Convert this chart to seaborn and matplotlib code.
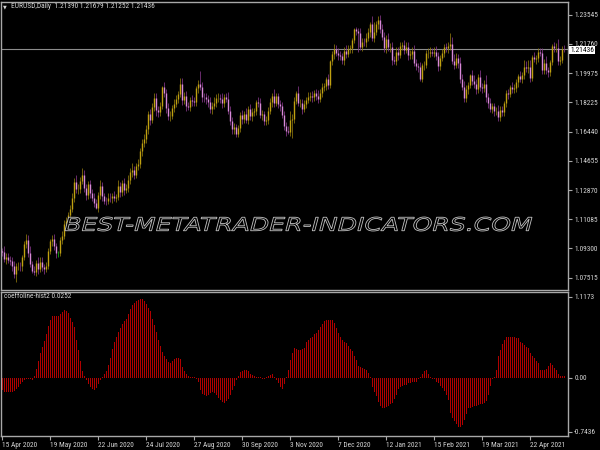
import numpy as np
import pandas as pd
import matplotlib
matplotlib.use("Agg")
import matplotlib.pyplot as plt
import seaborn as sns
from matplotlib import font_manager
from matplotlib.textpath import TextPath
from matplotlib.patches import PathPatch
from matplotlib.font_manager import FontProperties
import matplotlib.transforms as mtransforms

# ---------------- data ----------------
first_open = 1.0915
closes = [
    1.0910, 1.0865, 1.0875,
    1.0862, 1.0855, 1.0823, 1.0775, 1.0820,
    1.0825, 1.0820, 1.0875, 1.0955, 1.0980,
    1.0905, 1.0835, 1.0795, 1.0785, 1.0840,
    1.0805, 1.0850, 1.0815, 1.0805, 1.0820,
    1.0915, 1.0975, 1.0985, 1.0945, 1.0900,
    1.0900, 1.0980, 1.1005, 1.1080, 1.1100,
    1.1135, 1.1170, 1.1235, 1.1335, 1.1290,
    1.1295, 1.1340, 1.1375, 1.1300, 1.1255,
    1.1320, 1.1265, 1.1240, 1.1205, 1.1175,
    1.1255, 1.1310, 1.1250, 1.1220, 1.1218,
    1.1240, 1.1235, 1.1250, 1.1240, 1.1245,
    1.1310, 1.1275, 1.1330, 1.1285, 1.1300,
    1.1345, 1.1395, 1.1410, 1.1380, 1.1430,
    1.1445, 1.1525, 1.1570, 1.1595, 1.1655,
    1.1750, 1.1715, 1.1790, 1.1845, 1.1775,
    1.1760, 1.1800, 1.1915, 1.1875, 1.1785,
    1.1735, 1.1740, 1.1785, 1.1810, 1.1840,
    1.1870, 1.1930, 1.1835, 1.1860, 1.1795,
    1.1792, 1.1835, 1.1830, 1.1820, 1.1905,
    1.1935, 1.1915, 1.1855, 1.1850, 1.1840,
    1.1820, 1.1780, 1.1800, 1.1815, 1.1845,
    1.1848, 1.1842, 1.1815, 1.1850, 1.1840,
    1.1770, 1.1705, 1.1655, 1.1670, 1.1630,
    1.1665, 1.1745, 1.1720, 1.1750, 1.1715,
    1.1780, 1.1735, 1.1760, 1.1765, 1.1825,
    1.1815, 1.1745, 1.1750, 1.1705, 1.1715,
    1.1770, 1.1820, 1.1860, 1.1815, 1.1860,
    1.1810, 1.1795, 1.1745, 1.1675, 1.1645,
    1.1640, 1.1715, 1.1720, 1.1830, 1.1875,
    1.1815, 1.1818, 1.1780, 1.1810, 1.1835,
    1.1855, 1.1860, 1.1850, 1.1875, 1.1860,
    1.1840, 1.1880, 1.1915, 1.1917, 1.1960,
    1.1925, 1.2070, 1.2115, 1.2145, 1.2120,
    1.2110, 1.2100, 1.2080, 1.2135, 1.2115,
    1.2145, 1.2150, 1.2200, 1.2265, 1.2255,
    1.2245, 1.2160, 1.2190, 1.2185,
    1.2215, 1.2250, 1.2300, 1.2215,
    1.2250, 1.2295, 1.2325, 1.2270, 1.2220,
    1.2150, 1.2205, 1.2155, 1.2158, 1.2080,
    1.2075, 1.2130, 1.2110, 1.2165, 1.2170,
    1.2140, 1.2160, 1.2110, 1.2115, 1.2135,
    1.2060, 1.2040, 1.2035, 1.1965, 1.2045,
    1.2050, 1.2120, 1.2122, 1.2130, 1.2120,
    1.2130, 1.2100, 1.2040, 1.2090, 1.2120,
    1.2155, 1.2150, 1.2165, 1.2175, 1.2075,
    1.2050, 1.2090, 1.2060, 1.1965, 1.1915,
    1.1845, 1.1900, 1.1925, 1.1985, 1.1950,
    1.1930, 1.1900, 1.1975, 1.1915, 1.1905,
    1.1935, 1.1850, 1.1815, 1.1780, 1.1795,
    1.1765, 1.1768, 1.1730, 1.1775, 1.1760,
    1.1815, 1.1875, 1.1870, 1.1915, 1.1900,
    1.1910, 1.1945, 1.1980, 1.1965, 1.1985,
    1.2035, 1.2030, 1.2038, 1.1970, 1.2095,
    1.2085, 1.2090, 1.2125, 1.2120, 1.2020,
    1.2060, 1.2015, 1.2005, 1.2065, 1.2165,
    1.2150, 1.2153, 1.2075, 1.2080, 1.2145,
    1.21436,
]
# wick lengths above / below the candle body, in pips
up_wick_pips = [
    20, 35, 25,
    30, 20, 25, 30, 20,   25, 20, 15, 20, 39,   30, 40, 20, 25, 20,
    35, 25, 30, 20, 25,   20, 15, 25, 30, 20,   15, 20, 30, 25, 20,
    20, 25, 35, 25, 40,   30, 25, 47, 30, 25,   20, 30, 25, 30, 25,
    20, 39, 25, 20, 25,   30, 25, 20, 30, 15,   35, 25, 20, 30, 25,
    30, 25, 40, 25, 20,   30, 20, 25, 30, 25,   20, 30, 25, 35, 30,
    25, 20, 5, 30, 25,    30, 25, 20, 30, 25,   20, 36, 40, 25, 30,
    25, 20, 30, 25, 15,   20, 76, 30, 25, 30,   25, 30, 25, 35, 25,
    30, 25, 35, 20, 30,   45, 30, 25, 25, 20,   20, 15, 30, 20, 35,
    20, 30, 25, 20, 10,   30, 30, 25, 20, 25,   20, 25, 20, 40, 20,
    20, 25, 30, 20, 25,   30, 50, 30, 20, 15,   45, 25, 20, 25, 20,
    30, 25, 30, 20, 25,   35, 20, 25, 20, 15,   30, 10, 20, 30, 25,
    30, 25, 20, 20, 35,   25, 20, 15, 8, 15,
    20, 30, 25, 25,
    30, 25, 10, 45,
    60, 20, 24, 30, 25,   30, 25, 40, 25, 30,   20, 25, 30, 20, 15,
    30, 25, 30, 25, 20,   35, 25, 20, 30, 15,   25, 20, 30, 25, 20,
    30, 35, 25, 20, 25,   20, 25, 20, 68, 45,   40, 30, 25, 35, 25,
    35, 25, 20, 10, 30,   35, 30, 15, 40, 25,   20, 50, 25, 30, 20,
    20, 25, 35, 20, 25,   15, 20, 25, 10, 30,   25, 20, 15, 30, 20,
    45, 35, 40, 40, 15,   30, 20, 25, 25, 30,   25, 40, 20, 15, 10,
    25, 31, 55, 25, 20,
    24,
]
dn_wick_pips = [
    25, 20, 30,
    20, 25, 30, 25, 48,   20, 30, 25, 15, 20,   25, 20, 13, 20, 25,
    30, 20, 25, 30, 20,   15, 20, 30, 25, 30,   20, 15, 25, 20, 25,
    20, 30, 20, 25, 20,   30, 25, 20, 25, 30,   25, 30, 20, 25, 7,
    20, 25, 30, 20, 25,   20, 25, 30, 20, 25,   20, 30, 25, 30, 20,
    25, 20, 30, 25, 20,   20, 25, 30, 20, 25,   25, 30, 20, 25, 40,
    30, 25, 20, 25, 30,   25, 30, 20, 25, 20,   25, 20, 30, 25, 30,
    20, 25, 30, 20, 25,   25, 20, 30, 25, 30,   30, 25, 30, 20, 25,
    20, 25, 30, 25, 20,   20, 25, 30, 25, 18,   20, 25, 30, 25, 20,
    25, 20, 30, 25, 20,   25, 20, 30, 25, 20,   25, 20, 30, 25, 20,
    25, 30, 20, 25, 30,   15, 25, 113, 25, 20,  20, 25, 30, 20, 25,
    20, 25, 30, 20, 25,   25, 20, 30, 25, 20,   25, 20, 25, 30, 20,
    30, 20, 25, 30, 25,   20, 25, 30, 20, 25,
    115, 20, 25, 20,
    25, 20, 30, 20,
    25, 20, 30, 25, 20,   25, 30, 20, 25, 30,   20, 25, 30, 20, 25,
    25, 20, 30, 25, 30,   20, 25, 30, 13, 20,   25, 20, 30, 25, 20,
    25, 20, 30, 25, 20,   25, 20, 30, 25, 20,   25, 20, 30, 25, 20,
    20, 25, 30, 20, 25,   25, 30, 20, 25, 30,   20, 25, 30, 20, 25,
    25, 20, 26, 25, 20,   20, 25, 30, 20, 25,   20, 25, 30, 20, 25,
    20, 25, 30, 25, 20,   20, 30, 25, 20, 25,   25, 20, 30, 25, 20,
    25, 20, 30, 25, 20,
    14,
]
hist = [
    -0.17, -0.19, -0.20, -0.20, -0.20, -0.19, -0.18, -0.15, -0.12, -0.08,
    -0.05, -0.03, -0.02, -0.01, -0.02, -0.03, 0.03, 0.12, 0.23, 0.34,
    0.43, 0.51, 0.60, 0.72, 0.80, 0.85, 0.86, 0.85, 0.86, 0.88,
    0.91, 0.94, 0.93, 0.90, 0.83, 0.77, 0.70, 0.52, 0.38, 0.23,
    0.10, 0.03, -0.03, -0.08, -0.12, -0.15, -0.16, -0.14, -0.08, -0.03,
    0.02, 0.05, 0.10, 0.18, 0.28, 0.40, 0.50, 0.57, 0.64, 0.69,
    0.74, 0.78, 0.82, 0.88, 0.95, 1.00, 1.04, 1.06, 1.08, 1.09,
    1.09, 1.06, 1.02, 0.97, 0.92, 0.82, 0.73, 0.63, 0.53, 0.44,
    0.36, 0.30, 0.26, 0.22, 0.20, 0.23, 0.26, 0.28, 0.28, 0.26,
    0.15, 0.09, 0.05, 0.03, 0.02, 0.01, 0.01, -0.01, -0.05, -0.16,
    -0.22, -0.24, -0.25, -0.23, -0.21, -0.20, -0.21, -0.24, -0.28, -0.31,
    -0.33, -0.34, -0.32, -0.29, -0.23, -0.17, -0.11, -0.03, 0.03, 0.08,
    0.10, 0.11, 0.11, 0.10, 0.06, 0.04, 0.03, 0.02, 0.01, 0.01,
    -0.01, -0.01, 0.01, 0.03, 0.04, 0.05, 0.01, -0.03, -0.07, -0.13,
    -0.15, -0.08, 0.02, 0.11, 0.25, 0.34, 0.41, 0.40, 0.39, 0.38,
    0.40, 0.42, 0.50, 0.53, 0.55, 0.57, 0.60, 0.62, 0.66, 0.70,
    0.75, 0.78, 0.80, 0.80, 0.80, 0.80, 0.76, 0.69, 0.62, 0.57,
    0.53, 0.50, 0.48, 0.44, 0.40, 0.37, 0.31, 0.25, 0.17, 0.15,
    0.14, 0.12, 0.11, 0.07, 0.01, -0.12, -0.19, -0.25, -0.33, -0.38,
    -0.41, -0.41, -0.40, -0.38, -0.36, -0.34, -0.29, -0.23, -0.15, -0.12,
    -0.11, -0.10, -0.09, -0.07, -0.07, -0.06, -0.05, -0.05, -0.02, 0.02,
    0.05, 0.10, 0.11, 0.06, 0.02, -0.01, -0.02, -0.05, -0.07, -0.11,
    -0.14, -0.18, -0.24, -0.30, -0.48, -0.55, -0.60, -0.64, -0.67, -0.68,
    -0.65, -0.58, -0.50, -0.42, -0.41, -0.40, -0.39, -0.38, -0.37, -0.36,
    -0.36, -0.34, -0.32, -0.23, -0.11, -0.02, 0.02, 0.11, 0.30, 0.39,
    0.47, 0.53, 0.56, 0.57, 0.56, 0.56, 0.56, 0.55, 0.55, 0.50,
    0.48, 0.46, 0.43, 0.41, 0.34, 0.31, 0.28, 0.24, 0.21, 0.11,
    0.11, 0.11, 0.13, 0.16, 0.20, 0.18, 0.14, 0.11, 0.05, 0.03,
    0.03, 0.0252,
]
price_tick_labels = ["1.23545", "1.21760", "1.19975", "1.18225", "1.16440",
                     "1.14655", "1.12870", "1.11085", "1.09300", "1.07515"]
last_price = 1.21436
hist_tick_values = [1.1173, 0.0, -0.7436]
hist_tick_labels = ["1.1173", "0.00", "-0.7436"]
date_bars = [0, 24, 48, 72, 96, 120, 144, 168, 192, 216, 240, 264]
date_labels = ["15 Apr 2020", "19 May 2020", "22 Jun 2020", "24 Jul 2020",
               "27 Aug 2020", "30 Sep 2020", "3 Nov 2020", "7 Dec 2020",
               "12 Jan 2021", "15 Feb 2021", "19 Mar 2021", "22 Apr 2021"]
title_text = "EURUSD,Daily  1.21390 1.21679 1.21252 1.21436"
ind_text = "coeffoline-hist2 0.0252"
watermark = "BEST-METATRADER-INDICATORS.COM"

# ---------------- frame ----------------
n = len(closes)
bars = np.arange(n)
c = np.array(closes)
o = np.array([first_open] + closes[:-1])
hi = np.maximum(o, c) + np.array(up_wick_pips) * 1e-4
lo = np.minimum(o, c) - np.array(dn_wick_pips) * 1e-4
df = pd.DataFrame({"bar": bars, "open": o, "close": c, "high": hi,
                   "low": lo, "hist": hist})

sns.set_theme(style="dark", rc={"axes.facecolor": "black",
                                "figure.facecolor": "black",
                                "axes.grid": False})
names = {f.name for f in font_manager.fontManager.ttflist}
small_font, fs = "DejaVu Sans", 4.2
for cand, size in [("Liberation Sans Narrow", 5.6), ("Roboto Condensed", 5.3)]:
    if cand in names:
        small_font, fs = cand, size
        break
plt.rcParams["font.family"] = [small_font, "DejaVu Sans"]

FG = "#d4d4d4"
FRAME = "#a8a8a8"
BULL, BULL_W = "#c0a010", "#8f780c"
BEAR, BEAR_W = "#d88ad8", "#86388a"
DOJI = "#10b010"
HIST = "#b00000"
XLIM = (-0.6, 282.9)

fig = plt.figure(figsize=(6, 4.5), dpi=100, facecolor="black")
ax = fig.add_axes([1 / 600, 160 / 450, 567 / 600, 288 / 450])
ax2 = fig.add_axes([1 / 600, 14 / 450, 567 / 600, 144 / 450], sharex=ax)
for a in (ax, ax2):
    a.set_facecolor("black")
    for s in a.spines.values():
        s.set_color(FRAME)
        s.set_linewidth(1.0)

# candles
bull = df["close"] > df["open"]
bear = df["close"] < df["open"]
body_col = np.where(bull, BULL, np.where(bear, BEAR, DOJI))
wick_col = np.where(bull, BULL_W, np.where(bear, BEAR_W, DOJI))
ax.vlines(df["bar"], df["low"], df["high"], colors=wick_col, linewidth=0.55, zorder=2)
btm = np.minimum(df["open"], df["close"])
top = np.maximum(df["open"], df["close"])
top = np.where(top - btm < 0.0004, btm + 0.0004, top)
ax.vlines(df["bar"], btm, top, colors=body_col, linewidth=1.0, zorder=3)
ax.axhline(last_price, color="#8c8c8c", linewidth=0.8, zorder=1)

ax.set_ylim(1.06766, 1.24318)
ax.yaxis.tick_right()
ax.set_yticks(np.linspace(1.23545, 1.07515, len(price_tick_labels)))
ax.set_yticklabels(price_tick_labels)
ax.tick_params(axis="y", which="both", direction="out", length=3, width=0.8,
               color=FRAME, labelcolor=FG, labelsize=fs, pad=1.5, left=False, right=True)
ax.tick_params(axis="x", bottom=False, labelbottom=False)

# histogram with seaborn
sns.barplot(data=df, x="bar", y="hist", native_scale=True, color=HIST,
            width=0.5, errorbar=None, saturation=1, linewidth=0, ax=ax2)
for p in ax2.patches:
    p.set_antialiased(False)
ax2.set_xlabel("")
ax2.set_ylabel("")
ax2.set_xlim(*XLIM)
ax.set_xlim(*XLIM)
ax2.set_ylim(-0.80, 1.186)
ax2.yaxis.tick_right()
ax2.set_yticks(hist_tick_values)
ax2.set_yticklabels(hist_tick_labels)
ax2.tick_params(axis="y", which="both", direction="out", length=3, width=0.8,
                color=FRAME, labelcolor=FG, labelsize=fs, pad=1.5, left=False, right=True)
ax2.set_xticks(date_bars)
ax2.set_xticklabels(date_labels)
ax2.tick_params(axis="x", which="both", direction="out", length=3, width=0.8,
                color=FRAME, labelcolor=FG, labelsize=fs, pad=1, bottom=True)
for lbl in ax2.get_xticklabels():
    lbl.set_horizontalalignment("left")

# texts
fig.text(3 / 600, 1 - 7 / 450, "\u25bc", fontsize=3.5, color=FG, va="center",
         ha="left", family=["DejaVu Sans"])
fig.text(11 / 600, 1 - 7 / 450, title_text, fontsize=fs, color=FG,
         va="center", ha="left")
fig.text(4 / 600, 1 - 297 / 450, ind_text, fontsize=fs, color=FG,
         va="center", ha="left")
fig.text(570 / 600, 1 - 50 / 450, f"{last_price:.5f}", fontsize=fs, color="black",
         va="center", ha="left", zorder=20,
         bbox=dict(boxstyle="square,pad=0.12", fc="white", ec="none"))

# watermark as outlined, stretched text
tp = TextPath((0, 0), watermark, size=1,
              prop=FontProperties(family="DejaVu Sans", style="italic"))
ext = tp.get_extents()
tr = (mtransforms.Affine2D()
      .translate(-ext.x0, -ext.y0)
      .scale(467 / ext.width / 600, 14 / ext.height / 450)
      .translate(65 / 600, 219 / 450)) + fig.transFigure
fig.add_artist(PathPatch(tp, transform=tr, facecolor="black",
                         edgecolor="#c4c4c4", linewidth=0.6, zorder=10))

fig.savefig("out.png", dpi=100, facecolor="black")
